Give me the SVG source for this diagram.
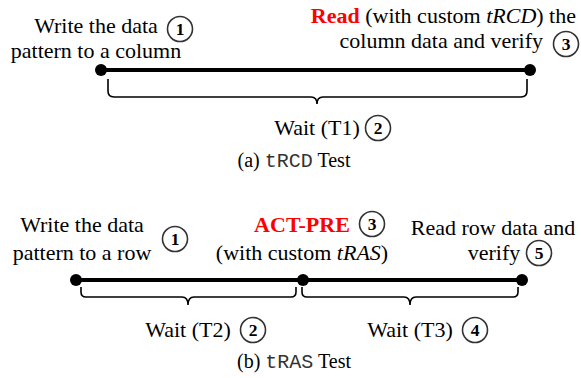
<svg xmlns="http://www.w3.org/2000/svg" width="581" height="378" viewBox="0 0 581 378">
<style>
text{font-family:"Liberation Serif","Times New Roman",serif;fill:#000}
.t{font-size:22px}
.c{text-anchor:middle}
.red{fill:#ff0000;font-weight:bold}
.mono{font-family:"Liberation Mono","Courier New",monospace;fill:#333}
.cap{font-size:20px}
.num circle{fill:#fff;stroke:#333;stroke-width:1.6}
.num text{font-size:17.5px;font-weight:bold;text-anchor:middle}
.line{stroke:#000;stroke-width:4;fill:none}
.brace{stroke:#000;stroke-width:1.6;fill:none}
.dot{fill:#000}
</style>
<rect width="581" height="378" fill="#fff"/>
<g id="connectors">
<line class="line" x1="101" y1="70" x2="530" y2="70"/>
<path class="brace" d="M108,79 V91 Q108,97 114,97 H311 Q317,97 317,104 Q317,97 323,97 H521 Q527,97 527,91 V79"/>
<line class="line" x1="76" y1="280" x2="303" y2="280"/>
<line class="line" x1="303" y1="280" x2="522" y2="280"/>
<path class="brace" d="M81,287 V292 Q81,297 86,297 H182 Q188,297 188,305 Q188,297 194,297 H291 Q296,297 296,292 V287"/>
<path class="brace" d="M302,287 V292 Q302,297 307,297 H404 Q410,297 410,305 Q410,297 416,297 H513 Q518,297 518,292 V287"/>
</g>
<g id="a-start">
<circle class="dot" cx="101" cy="70" r="6"/>
<text class="t c" x="96" y="33">Write the data</text>
<text class="t c" x="96" y="58">pattern to a column</text>
<g class="num"><circle cx="180" cy="29" r="12.5"/><text x="180" y="35">1</text></g>
</g>
<g id="a-end">
<circle class="dot" cx="530" cy="70" r="6"/>
<text class="t" x="576" y="23" text-anchor="end"><tspan class="red">Read</tspan> (with custom <tspan font-style="italic">tRCD</tspan>) the</text>
<text class="t" x="543" y="48" text-anchor="end">column data and verify</text>
<g class="num"><circle cx="566" cy="44" r="12.5"/><text x="566" y="50">3</text></g>
</g>
<g id="a-wait">
<text class="t c" x="317" y="135">Wait (T1)</text>
<g class="num"><circle cx="378" cy="128" r="12.5"/><text x="378" y="134">2</text></g>
</g>
<text class="cap c" x="294" y="167">(a) <tspan class="mono">tRCD</tspan> Test</text>
<g id="b-start">
<circle class="dot" cx="76" cy="280" r="6"/>
<text class="t c" x="82" y="232">Write the data</text>
<text class="t c" x="82" y="260">pattern to a row</text>
<g class="num"><circle cx="175" cy="239" r="12.5"/><text x="175" y="245">1</text></g>
</g>
<g id="b-mid">
<circle class="dot" cx="303" cy="280" r="6"/>
<text class="t c red" x="302" y="232">ACT-PRE</text>
<text class="t c" x="302" y="260">(with custom <tspan font-style="italic">tRAS</tspan>)</text>
<g class="num"><circle cx="372" cy="224" r="12.5"/><text x="372" y="230">3</text></g>
</g>
<g id="b-end">
<circle class="dot" cx="522" cy="280" r="6"/>
<text class="t c" x="493" y="235">Read row data and</text>
<text class="t c" x="494" y="260">verify</text>
<g class="num"><circle cx="539" cy="253" r="12.5"/><text x="539" y="259">5</text></g>
</g>
<g id="b-wait2">
<text class="t c" x="188" y="337">Wait (T2)</text>
<g class="num"><circle cx="253" cy="330" r="12.5"/><text x="253" y="336">2</text></g>
</g>
<g id="b-wait3">
<text class="t c" x="410" y="337">Wait (T3)</text>
<g class="num"><circle cx="475" cy="330" r="12.5"/><text x="475" y="336">4</text></g>
</g>
<text class="cap c" x="294" y="368">(b) <tspan class="mono">tRAS</tspan> Test</text>
</svg>
